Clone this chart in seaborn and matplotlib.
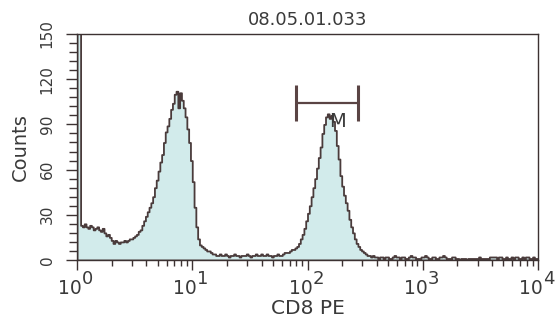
import numpy as np
import pandas as pd
import matplotlib
matplotlib.use("Agg")
import matplotlib.pyplot as plt
import seaborn as sns
from matplotlib.ticker import MultipleLocator, LogLocator, NullFormatter

# ---- data -------------------------------------------------------------
sample_id = "08.05.01.033"
x_label = "CD8 PE"
y_label = "Counts"
decades = [0, 1, 2, 3, 4]
y_ticks = [0, 30, 60, 90, 120, 150]
channels_per_decade = 64

# event counts per log channel (256 channels over 4 decades);
# the first two channels run off the top of the scale
counts = [
    180, 170, 23, 22, 24, 22, 21, 23, 22, 20,
    21, 22, 20, 19, 21, 18, 16, 17, 15, 13,
    11, 13, 12, 11, 12, 12, 13, 12, 13, 14,
    14, 15, 16, 17, 19, 20, 23, 26, 29, 32,
    35, 38, 42, 48, 53, 59, 65, 70, 78, 85,
    89, 94, 100, 104, 110, 112, 101, 111, 106, 101,
    95, 87, 78, 66, 52, 35, 22, 14, 10, 9,
    8, 7, 6, 6, 5, 4, 4, 3, 3, 4,
    3, 3, 4, 3, 2, 3, 3, 4, 3, 3,
    2, 3, 3, 3, 4, 3, 2, 3, 3, 4,
    3, 3, 4, 3, 3, 4, 3, 3, 2, 3,
    3, 4, 3, 3, 4, 5, 5, 5, 6, 7,
    7, 8, 9, 11, 14, 17, 21, 26, 31, 36,
    42, 48, 54, 61, 68, 75, 84, 90, 95, 97,
    94, 96, 92, 86, 76, 67, 56, 49, 43, 38,
    33, 27, 22, 18, 14, 11, 9, 7, 6, 5,
    4, 3, 3, 2, 3, 2, 2, 1, 2, 2,
    1, 2, 2, 1, 1, 2, 3, 2, 2, 1,
    2, 2, 1, 1, 2, 3, 2, 2, 1, 1,
    1, 2, 2, 3, 2, 1, 1, 2, 2, 1,
    1, 2, 2, 3, 2, 1, 1, 1, 2, 2,
    1, 1, 0, 1, 1, 1, 0, 1, 1, 1,
    1, 1, 1, 2, 1, 1, 1, 1, 1, 2,
    2, 2, 2, 1, 2, 2, 1, 1, 2, 1,
    1, 2, 1, 2, 2, 1, 1, 2, 1, 2,
    2, 1, 1, 2, 1, 1,
]

# histogram marker (gate) bounds and drawing level
marker_name = "M"
marker_range = [79, 277]
marker_level = 104
marker_half_height = 12

# ---- styling ----------------------------------------------------------
sns.set_theme(style="ticks")
plt.rcParams["font.family"] = ["DejaVu Sans"]

ink = "#3c3232"
edge = "#4a3b3b"
fill = "#d2ebeb"
text_color = "#3a3a3a"

n = len(counts)
channel = 10 ** ((np.arange(n) + 0.5) / channels_per_decade)
df = pd.DataFrame({x_label: channel, y_label: counts})

fig = plt.figure(figsize=(5.57, 3.23), dpi=100)
ax = fig.add_axes([77 / 557, 1 - 260 / 323, (538 - 77) / 557, (260 - 34) / 323])
ax.set_facecolor("white")

sns.histplot(
    data=df, x=x_label, weights=y_label,
    bins=n, binrange=(decades[0], decades[-1]), log_scale=True,
    element="step", fill=True, alpha=1,
    facecolor=fill, edgecolor=edge, linewidth=1.3,
    ax=ax,
)

ax.set_xlim(10 ** decades[0], 10 ** decades[-1])
ax.set_ylim(y_ticks[0], y_ticks[-1])

# frame
for side in ["left", "right", "top", "bottom"]:
    ax.spines[side].set_visible(True)
    ax.spines[side].set_color(ink)
    ax.spines[side].set_linewidth(1.0)

# y axis: majors every 30, minors every 6, rotated labels
ax.yaxis.set_major_locator(MultipleLocator(30))
ax.yaxis.set_minor_locator(MultipleLocator(6))
ax.tick_params(axis="y", which="major", direction="out", length=8, width=1.0,
               color=ink, labelcolor=text_color, labelrotation=90, pad=8)
ax.tick_params(axis="y", which="minor", direction="out", length=5.5, width=1.0, color=ink)
for lab in ax.get_yticklabels():
    lab.set_verticalalignment("center")
    lab.set_fontfamily(["Liberation Sans Narrow", "DejaVu Sans Condensed", "DejaVu Sans"])
    lab.set_fontsize(11)

# x axis: decades with 2..9 minors, labels written as 10 with exponent
ax.xaxis.set_major_locator(LogLocator(base=10, numticks=10))
ax.xaxis.set_minor_locator(LogLocator(base=10, subs=np.arange(2, 10), numticks=20))
ax.xaxis.set_major_formatter(NullFormatter())
ax.xaxis.set_minor_formatter(NullFormatter())
ax.tick_params(axis="x", which="major", direction="out", length=7, width=1.0, color=ink)
ax.tick_params(axis="x", which="minor", direction="out", length=4, width=1.0, color=ink)

for k in decades:
    ax.annotate("10", xy=(10 ** k, 0), xycoords=("data", "axes fraction"),
                xytext=(3.5, -14), textcoords="offset points",
                ha="right", va="top", fontsize=13.5, color=text_color)
    ax.annotate(str(k), xy=(10 ** k, 0), xycoords=("data", "axes fraction"),
                xytext=(3.5, -7.5), textcoords="offset points",
                ha="left", va="top", fontsize=13, color=text_color)

ax.set_xlabel(x_label, fontsize=14.5, color=text_color, va="top")
ax.xaxis.set_label_coords(0.5, -0.174)
ax.set_ylabel(y_label, fontsize=14, color=text_color, labelpad=7)
ax.set_title(sample_id, fontsize=13, color=text_color, pad=6.5)

# marker bracket with its label
lo, hi = marker_range
ax.plot([lo, hi], [marker_level, marker_level], color="#5a4444", lw=1.6, solid_capstyle="butt")
for xb in marker_range:
    ax.plot([xb, xb], [marker_level - marker_half_height, marker_level + marker_half_height],
            color="#5a4444", lw=2.2, solid_capstyle="butt")
ax.text(182, 92, marker_name, ha="center", va="center", fontsize=14, color=text_color)

fig.savefig("out.png", dpi=100, facecolor="white")
